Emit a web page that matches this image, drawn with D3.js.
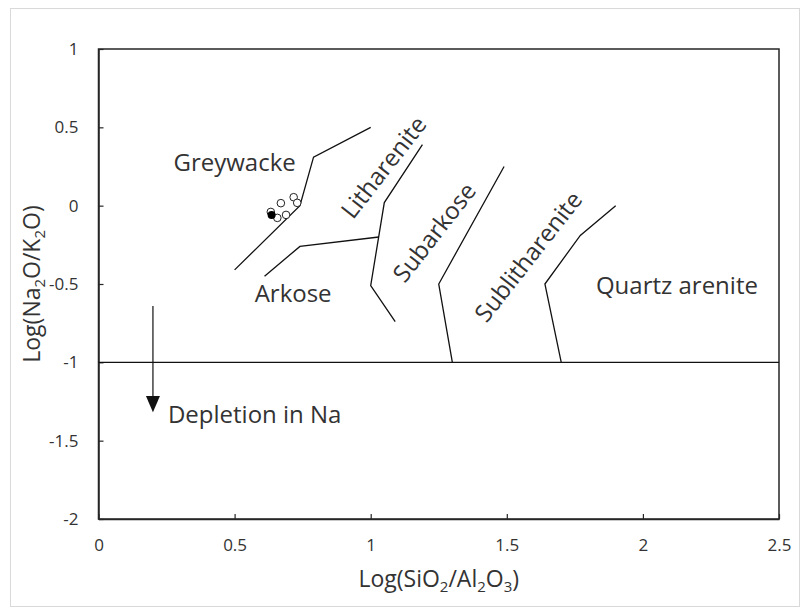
<!DOCTYPE html>
<html>
<head>
<meta charset="utf-8">
<script src="https://cdn.jsdelivr.net/npm/d3@7"></script>
<style>
  body { margin: 0; background: #fff; }
  svg text { font-family: "Open Sans", "Noto Sans", sans-serif; fill: #333; }
</style>
</head>
<body>
<div class="chart"></div>
<script>
// tick values
const xTicks = [0, 0.5, 1, 1.5, 2, 2.5];
const yTicks = [1, 0.5, 0, -0.5, -1, -1.5, -2];

// field boundaries (log SiO2/Al2O3, log Na2O/K2O)
const greywackeLine = [[0.5, -0.41], [0.74, 0], [0.79, 0.31], [1.0, 0.5]];
const arkoseLine = [[0.61, -0.45], [0.74, -0.26], [1.03, -0.2]];
const lithareniteLine = [[1.19, 0.39], [1.05, 0.02], [1.0, -0.51], [1.09, -0.74]];
const subarkoseLine = [[1.49, 0.25], [1.25, -0.5], [1.3, -1]];
const sublitharLine = [[1.9, 0], [1.77, -0.19], [1.64, -0.5], [1.7, -1]];
const depletionLine = [[0, -1], [2.5, -1]];

// samples
const openSamples = [[0.633, -0.04], [0.67, 0.016], [0.717, 0.054], [0.73, 0.018], [0.657, -0.078], [0.689, -0.059]];
const filledSamples = [[0.636, -0.059]];

// field names
const fieldNames = ['Greywacke', 'Arkose', 'Litharenite', 'Subarkose', 'Sublitharenite', 'Quartz arenite'];

const w = 804;
const h = 609;
const margin = { top: 49, right: 25, bottom: 90, left: 98.5 };

const xScale = d3.scaleLinear()
                 .domain([0, 2.5])
                 .range([margin.left, w - margin.right]);

const yScale = d3.scaleLinear()
                 .domain([-2, 1])
                 .range([h - margin.bottom, margin.top]);

const svg = d3.select('.chart')
              .append('svg')
              .attr('width', w)
              .attr('height', h);

// outer chart border
svg.append('rect')
   .attr('x', 10.5).attr('y', 8.5)
   .attr('width', 789).attr('height', 598)
   .attr('fill', 'none')
   .attr('stroke', '#d9d9d9');

// plot frame
svg.append('rect')
   .attr('x', xScale(0)).attr('y', yScale(1))
   .attr('width', xScale(2.5) - xScale(0))
   .attr('height', yScale(-2) - yScale(1))
   .attr('fill', 'none')
   .attr('stroke', '#262626')
   .attr('stroke-width', 1.5);

const xAxis = d3.axisBottom(xScale)
                .tickValues(xTicks)
                .tickFormat(d => String(d))
                .tickSizeInner(-5)
                .tickSizeOuter(0)
                .tickPadding(20);

const yAxis = d3.axisLeft(yScale)
                .tickValues(yTicks)
                .tickFormat(d => String(d))
                .tickSizeInner(-5)
                .tickSizeOuter(0)
                .tickPadding(20);

const gx = svg.append('g')
   .attr('transform', `translate(0, ${yScale(-2)})`)
   .call(xAxis);

const gy = svg.append('g')
   .attr('transform', `translate(${xScale(0)}, 0)`)
   .call(yAxis);

[gx, gy].forEach(g => {
  g.select('.domain').attr('stroke', '#262626').attr('stroke-width', 1.5);
  g.selectAll('.tick line').attr('stroke', '#262626').attr('stroke-width', 1.2);
  g.selectAll('.tick text')
   .style('font-family', '"Open Sans", sans-serif')
   .style('font-size', '17px')
   .attr('fill', '#333');
});

// axis titles
const xTitle = svg.append('text')
   .attr('x', (xScale(0) + xScale(2.5)) / 2)
   .attr('y', 587)
   .attr('text-anchor', 'middle')
   .style('font-size', '23px');
xTitle.append('tspan').text('Log(SiO');
xTitle.append('tspan').attr('dy', 5).style('font-size', '15px').text('2');
xTitle.append('tspan').attr('dy', -5).text('/Al');
xTitle.append('tspan').attr('dy', 5).style('font-size', '15px').text('2');
xTitle.append('tspan').attr('dy', -5).text('O');
xTitle.append('tspan').attr('dy', 5).style('font-size', '15px').text('3');
xTitle.append('tspan').attr('dy', -5).text(')');

const yTitle = svg.append('text')
   .attr('transform', `translate(40, ${(yScale(1) + yScale(-2)) / 2}) rotate(-90)`)
   .attr('text-anchor', 'middle')
   .style('font-size', '23px');
yTitle.append('tspan').text('Log(Na');
yTitle.append('tspan').attr('dy', 5).style('font-size', '15px').text('2');
yTitle.append('tspan').attr('dy', -5).text('O/K');
yTitle.append('tspan').attr('dy', 5).style('font-size', '15px').text('2');
yTitle.append('tspan').attr('dy', -5).text('O)');

// boundary lines
const line = d3.line()
               .x(d => xScale(d[0]))
               .y(d => yScale(d[1]));

[greywackeLine, arkoseLine, lithareniteLine, subarkoseLine, sublitharLine, depletionLine].forEach(pts => {
  svg.append('path')
     .attr('d', line(pts))
     .attr('fill', 'none')
     .attr('stroke', '#111')
     .attr('stroke-width', 1.3);
});

// Na depletion arrow
const ax = xScale(0.2);
svg.append('line')
   .attr('x1', ax).attr('x2', ax)
   .attr('y1', yScale(-0.64)).attr('y2', yScale(-1.22))
   .attr('stroke', '#111')
   .attr('stroke-width', 1.2);
svg.append('path')
   .attr('d', `M${ax - 7},${yScale(-1.215)} L${ax + 7},${yScale(-1.215)} L${ax},${yScale(-1.318)} Z`)
   .attr('fill', '#111');

// field labels
const plainLabels = [
  { name: fieldNames[0], x: 0.50, y: 0.22, anchor: 'middle' },
  { name: fieldNames[1], x: 0.715, y: -0.615, anchor: 'middle' },
  { name: fieldNames[5], x: 2.125, y: -0.564, anchor: 'middle' },
  { name: 'Depletion in Na', x: 0.255, y: -1.39, anchor: 'start' }
];

svg.selectAll('.plain-label')
   .data(plainLabels)
   .enter()
   .append('text')
   .attr('class', 'plain-label')
   .attr('x', d => xScale(d.x))
   .attr('y', d => yScale(d.y))
   .attr('text-anchor', d => d.anchor)
   .style('font-size', '24px')
   .text(d => d.name);

const slantLabels = [
  { name: fieldNames[2], x: 1.045, y: 0.249 },
  { name: fieldNames[3], x: 1.231, y: -0.166 },
  { name: fieldNames[4], x: 1.576, y: -0.321 }
];

svg.selectAll('.slant-label')
   .data(slantLabels)
   .enter()
   .append('text')
   .attr('class', 'slant-label')
   .attr('transform', d => `translate(${xScale(d.x)}, ${yScale(d.y)}) rotate(-52)`)
   .attr('text-anchor', 'middle')
   .attr('dominant-baseline', 'central')
   .style('font-size', '24px')
   .text(d => d.name);

// samples
svg.selectAll('.open-pt')
   .data(openSamples)
   .enter()
   .append('circle')
   .attr('class', 'open-pt')
   .attr('cx', d => xScale(d[0]))
   .attr('cy', d => yScale(d[1]))
   .attr('r', 3.8)
   .attr('fill', '#fff')
   .attr('stroke', '#222')
   .attr('stroke-width', 1);

svg.selectAll('.filled-pt')
   .data(filledSamples)
   .enter()
   .append('circle')
   .attr('class', 'filled-pt')
   .attr('cx', d => xScale(d[0]))
   .attr('cy', d => yScale(d[1]))
   .attr('r', 4)
   .attr('fill', '#000');
</script>
</body>
</html>
